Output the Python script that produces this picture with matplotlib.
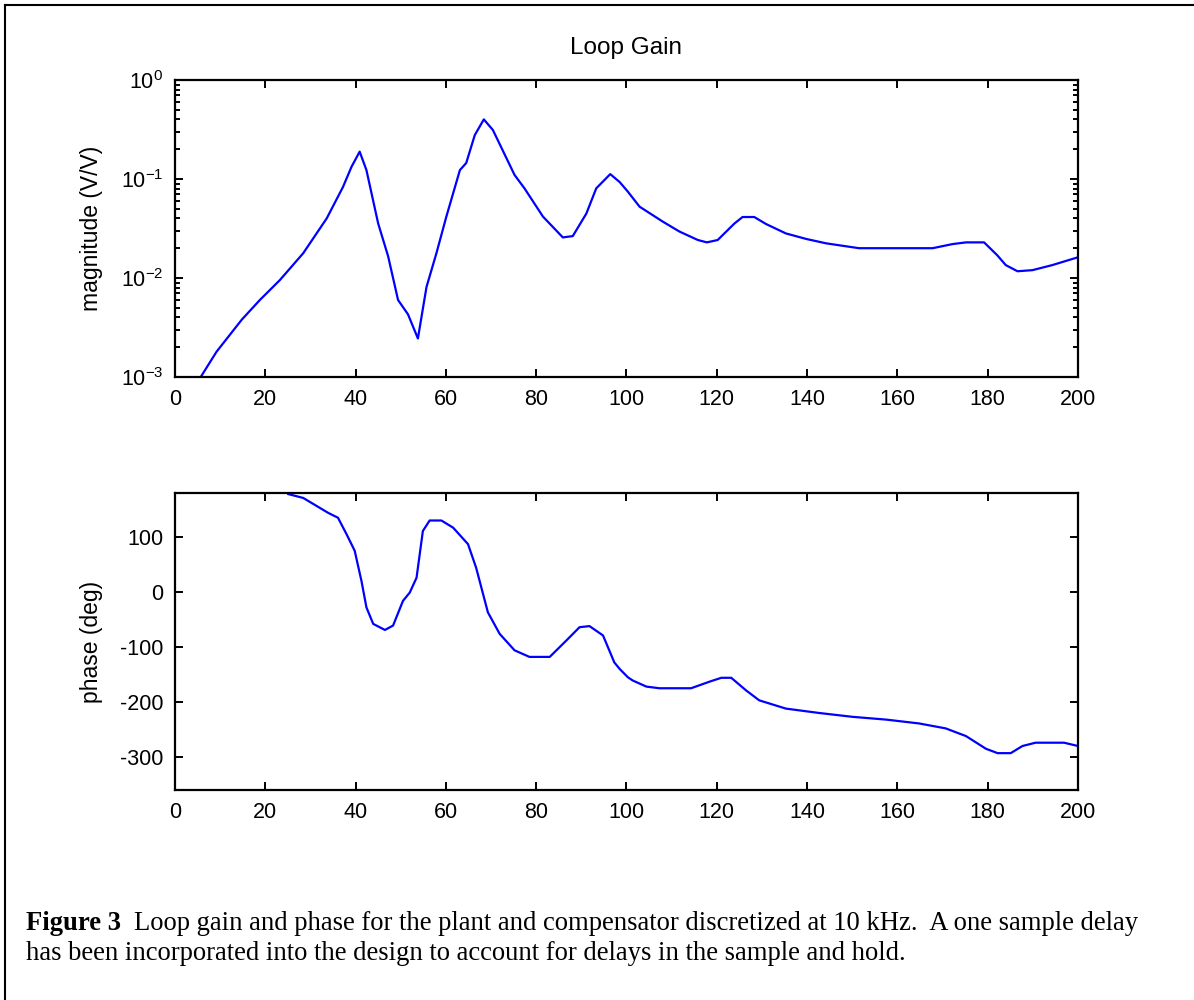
import matplotlib
matplotlib.use("Agg")
from matplotlib import pyplot as plt
from matplotlib.lines import Line2D

plt.rcParams['font.family'] = ['Liberation Sans', 'DejaVu Sans']
plt.rcParams['axes.unicode_minus'] = False
plt.rcParams['mathtext.fontset'] = 'custom'
plt.rcParams['mathtext.rm'] = 'Liberation Sans'

# loop gain magnitude (V/V)
mag_freq = [5.7, 9.2, 14.8, 18.8, 23.2, 28.4, 33.6, 37.2, 39.1, 40.9, 42.4, 45.0,
            47.2, 49.4, 51.6, 53.8, 55.7, 57.9, 60.1, 63.1, 64.5, 66.4, 68.4, 70.4,
            75.2, 77.4, 81.5, 85.9, 88.1, 91.1, 93.3, 96.4, 98.5, 100.3, 102.9, 108.0,
            111.7, 115.8, 117.8, 120.2, 123.9, 125.7, 128.3, 130.9, 135.3, 139.8, 144.2,
            151.5, 167.8, 172.2, 175.2, 179.2, 182.1, 184.0, 186.6, 189.9, 194.3, 200.0]
mag_vals = [0.0010, 0.0018, 0.0038, 0.0060, 0.0095, 0.0178, 0.040, 0.083, 0.133, 0.189,
            0.123, 0.0355, 0.0166, 0.0060, 0.0043, 0.00245, 0.0081, 0.0178, 0.0417, 0.123,
            0.145, 0.278, 0.40, 0.313, 0.110, 0.0805, 0.0417, 0.0257, 0.0265, 0.0447,
            0.0805, 0.112, 0.093, 0.0745, 0.0525, 0.0372, 0.0295, 0.0242, 0.0229, 0.0242,
            0.0355, 0.0413, 0.0413, 0.0351, 0.0282, 0.0248, 0.0224, 0.0200, 0.0200, 0.0220,
            0.0229, 0.0229, 0.0170, 0.0135, 0.0117, 0.0120, 0.0135, 0.0162]

# phase (deg)
ph_freq = [25.1, 28.4, 33.9, 36.1, 38.0, 39.8, 41.3, 42.4, 43.9, 46.5, 48.3, 50.5, 52.0,
           53.5, 54.9, 56.4, 59.0, 61.6, 64.9, 66.7, 69.3, 71.9, 75.2, 78.5, 83.0, 86.7,
           89.6, 91.8, 94.8, 97.3, 98.5, 100.3, 101.4, 104.4, 107.3, 114.3, 118.4, 121.0,
           123.2, 126.5, 129.4, 135.3, 142.7, 150.1, 157.5, 164.8, 170.7, 175.2, 179.6,
           182.2, 185.1, 187.7, 190.6, 196.9, 200.0]
ph_vals = [178, 171, 144, 135, 105, 75, 20, -28, -58, -69, -61, -16, -1, 26, 111, 130, 130,
           117, 87, 44, -37, -76, -106, -118, -118, -88, -64, -62, -79, -128, -140, -155,
           -161, -172, -175, -175, -163, -156, -156, -179, -197, -212, -220, -227, -232,
           -239, -248, -262, -285, -293, -293, -280, -274, -274, -280]

x_ticks = [0, 20, 40, 60, 80, 100, 120, 140, 160, 180, 200]
ph_ticks = [100, 0, -100, -200, -300]

fig = plt.figure(figsize=(11.94, 10), dpi=100)
W, H = 1194.0, 1000.0

ax1 = fig.add_axes([175 / W, 1 - 377 / H, 903 / W, 297 / H])
ax2 = fig.add_axes([175 / W, 1 - 790 / H, 903 / W, 297 / H])

ax1.plot(mag_freq, mag_vals, color=(0, 0, 1), lw=1.6)
ax1.set_yscale('log')
ax1.set_ylim(1e-3, 1e0)
ax1.set_ylabel('magnitude (V/V)', fontsize=16.5)

ax2.plot(ph_freq, ph_vals, color=(0, 0, 1), lw=1.6)
ax2.set_ylim(-360, 180)
ax2.set_yticks(ph_ticks)
ax2.set_ylabel('phase (deg)', fontsize=16.5)

for ax in (ax1, ax2):
    ax.set_xlim(0, 200)
    ax.set_xticks(x_ticks)
    ax.tick_params(which='both', direction='in', top=True, right=True, width=1.4)
    ax.tick_params(which='major', length=6, labelsize=15.5)
    ax.tick_params(axis='x', pad=8.5)
    ax.tick_params(axis='y', pad=8.5)
    ax.tick_params(which='minor', length=3.6)
    ax.yaxis.set_label_coords(-0.08, 0.5)
    for s in ax.spines.values():
        s.set_linewidth(1.6)

fig.text(626 / W, 1 - 54 / H, 'Loop Gain', fontsize=17.5, ha='center', va='baseline')

# page frame around the figure
fig.add_artist(Line2D([5 / W, 5 / W], [0, 1 - 5 / H], color='black', lw=1.5))
fig.add_artist(Line2D([5 / W, 1], [1 - 5 / H, 1 - 5 / H], color='black', lw=1.5))

# caption
cap_font = ['Liberation Serif', 'DejaVu Serif']
cap_size = 19.2
t = fig.text(26 / W, 1 - 930 / H, 'Figure 3', fontsize=cap_size, fontweight='bold',
             family=cap_font, va='baseline')
renderer = fig.canvas.get_renderer()
bb = t.get_window_extent(renderer)
fig.text(bb.x1 / W + 13 / W, 1 - 930 / H,
         'Loop gain and phase for the plant and compensator discretized at 10 kHz.  A one sample delay',
         fontsize=cap_size, family=cap_font, va='baseline')
fig.text(26 / W, 1 - 960 / H,
         'has been incorporated into the design to account for delays in the sample and hold.',
         fontsize=cap_size, family=cap_font, va='baseline')

plt.savefig('out.png', dpi=100)
